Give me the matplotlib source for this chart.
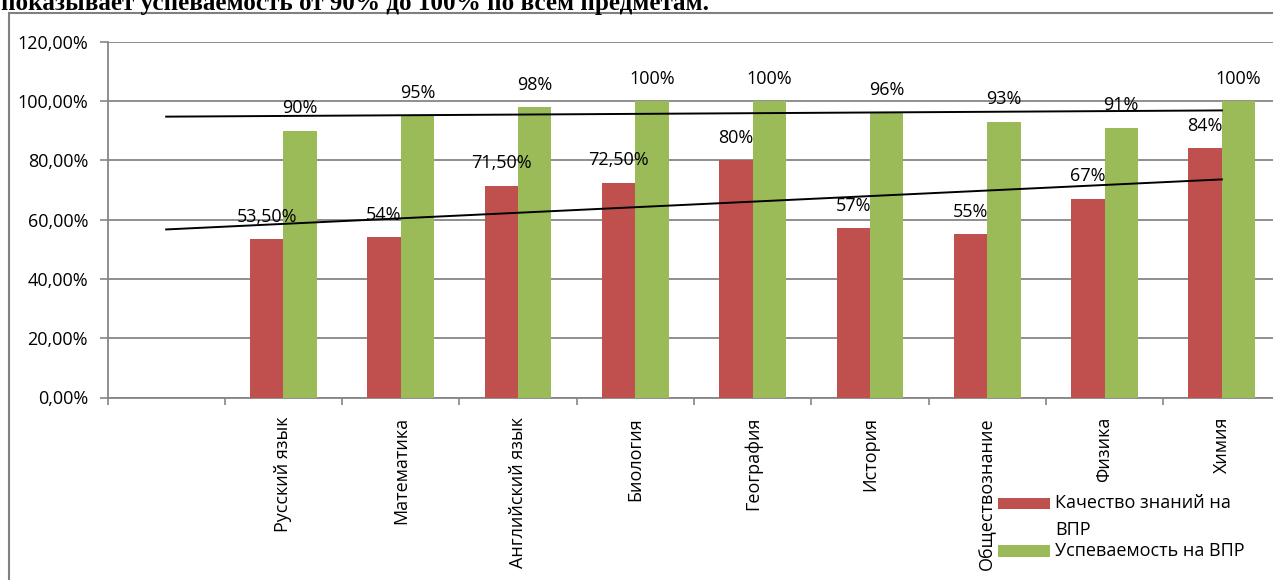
import numpy as np
import matplotlib
matplotlib.use("Agg")
import matplotlib.pyplot as plt
from matplotlib.patches import Rectangle
from matplotlib.ticker import FuncFormatter, MultipleLocator

plt.rcParams['font.family'] = ['Open Sans', 'DejaVu Sans']

# данные
subjects = ["Русский язык", "Математика", "Английский язык", "Биология", "География",
            "История", "Обществознание", "Физика", "Химия"]
quality = [53.5, 54, 71.5, 72.5, 80, 57, 55, 67, 84]        # Качество знаний на ВПР
progress = [90, 95, 98, 100, 100, 96, 93, 91, 100]          # Успеваемость на ВПР
legend_labels = ["Качество знаний на\nВПР", "Успеваемость на ВПР"]
title_text = "показывает успеваемость от 90% до 100% по всем предметам."

red = "#C0504D"
green = "#9BBB59"
grid_c = "#868686"

W, H = 1273, 580
fig = plt.figure(figsize=(W / 100, H / 100), dpi=100)


def px(x, y):
    return x / W, 1 - y / H


# оси (правый край обрезан, как в оригинале)
x0, ytop, ybot = 107.5, 41.7, 397.5
cat_w = 117.3
ax = fig.add_axes([x0 / W, 1 - ybot / H, 10 * cat_w / W, (ybot - ytop) / H])

# первая категория пустая
pos = np.arange(1, len(subjects) + 1)
bw = 0.285
ax.bar(pos - bw / 2, quality, bw, color=red, zorder=3)
ax.bar(pos + bw / 2, progress, bw, color=green, zorder=3)


def fmt(v):
    if float(v).is_integer():
        return "%d%%" % v
    return ("%.2f%%" % v).replace(".", ",")


for p, q, g in zip(pos, quality, progress):
    ax.annotate(fmt(q), (p - bw / 2, q), xytext=(0, 12.5), textcoords="offset points",
                ha="center", va="baseline", fontsize=13, zorder=5)
    ax.annotate(fmt(g), (p + bw / 2, g), xytext=(0, 12.5), textcoords="offset points",
                ha="center", va="baseline", fontsize=13, zorder=5)

# линейные тренды
xt = np.array([0, len(subjects)])
for vals in (quality, progress):
    k, b = np.polyfit(pos + 1, vals, 1)
    ax.plot(xt, k * (xt + 1) + b, color="black", lw=1.4, zorder=4)

ax.set_xlim(-0.5, 9.5)
ax.set_ylim(0, 120)
ax.yaxis.set_major_locator(MultipleLocator(20))
ax.yaxis.set_major_formatter(FuncFormatter(lambda v, _: ("%.2f%%" % v).replace(".", ",")))
ax.set_xticks(pos)
ax.set_xticklabels(subjects, rotation=90, fontsize=13)
ax.set_xticks(np.arange(-0.5, 10, 1), minor=True)
ax.tick_params(axis="x", which="major", length=0, pad=14)
ax.tick_params(axis="x", which="minor", length=5, color=grid_c, width=1.2)
ax.tick_params(axis="y", length=6, color=grid_c, width=1.2, labelsize=13, pad=8)
ax.grid(axis="y", color=grid_c, lw=1.3, zorder=0)
for s in ("top", "right"):
    ax.spines[s].set_visible(False)
for s in ("left", "bottom"):
    ax.spines[s].set_color(grid_c)
    ax.spines[s].set_linewidth(1.3)

# легенда
fig.add_artist(Rectangle(px(998, 509), 52 / W, 11 / H, transform=fig.transFigure,
                         color=red, lw=0))
fig.add_artist(Rectangle(px(998, 557), 52 / W, 12 / H, transform=fig.transFigure,
                         color=green, lw=0))
fig.text(*px(1055, 503), "Качество знаний на", fontsize=13, va="center")
fig.text(*px(1055, 530), "ВПР", fontsize=13, va="center")
fig.text(*px(1055, 551), "Успеваемость на ВПР", fontsize=13, va="center")

# рамка диаграммы
fig.add_artist(Rectangle(px(8.5, 600), 1400 / W, 587.5 / H, transform=fig.transFigure,
                         fill=False, edgecolor="#808080", lw=1.5))

# обрезанная строка текста сверху
fig.text(*px(1, 10), title_text, fontsize=18.1, fontweight="bold",
         family="Liberation Serif", va="baseline")

fig.savefig("out.png", dpi=100)
